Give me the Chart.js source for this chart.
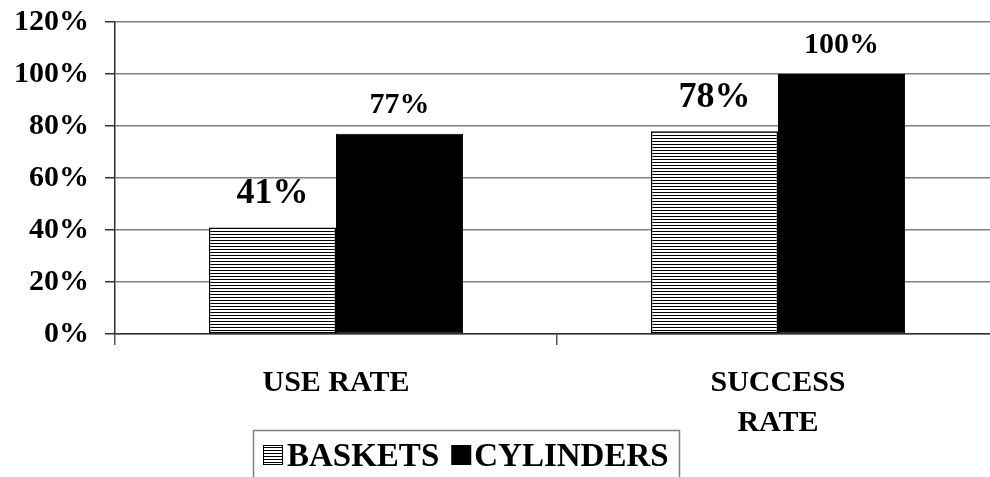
<!DOCTYPE html>
<html>
<head>
<meta charset="utf-8">
<script src="https://cdn.jsdelivr.net/npm/chart.js@4/dist/chart.umd.min.js"></script>
<style>
  html, body { margin: 0; padding: 0; background: #fff; overflow: hidden; }
  #wrap { width: 1000px; height: 477px; position: relative; }
</style>
</head>
<body>
<div id="wrap"><canvas id="grafico" width="1000" height="477"></canvas></div>
<script>
// dados do grafico
const categorias = [["USE RATE"], ["SUCCESS", "RATE"]];
const serieNomes = ["BASKETS", "CYLINDERS"];
const baskets = [0.41, 0.78];
const cylinders = [0.77, 1.0];
const yTicks = [0, 0.2, 0.4, 0.6, 0.8, 1.0, 1.2];

const fonte = "'Liberation Serif', 'Times New Roman', serif";

// padrao de listras horizontais para BASKETS
function criarListras() {
  const c = document.createElement("canvas");
  c.width = 4;
  c.height = 3;
  const g = c.getContext("2d");
  g.fillStyle = "#fff";
  g.fillRect(0, 0, 4, 3);
  g.fillStyle = "#000";
  g.fillRect(0, 0, 4, 1);
  return g.createPattern(c, "repeat");
}
const listras = criarListras();

// rotulos acima das barras
const rotulosPlugin = {
  id: "rotulos",
  afterDatasetsDraw(chart) {
    const ctx = chart.ctx;
    ctx.save();
    ctx.fillStyle = "#000";
    ctx.textAlign = "center";
    ctx.textBaseline = "alphabetic";
    chart.data.datasets.forEach((ds, i) => {
      const meta = chart.getDatasetMeta(i);
      const tam = i === 0 ? 36 : 30;
      const desl = i === 0 ? 24 : 21;
      ctx.font = "bold " + tam + "px " + fonte;
      meta.data.forEach((bar, j) => {
        const txt = Math.round(ds.data[j] * 100) + "%";
        ctx.fillText(txt, bar.x, bar.y - desl);
      });
    });
    ctx.restore();
  },
};

// legenda com borda, desenhada na mao
const legendaPlugin = {
  id: "legenda",
  afterDraw(chart) {
    const ctx = chart.ctx;
    ctx.save();
    ctx.font = "bold 33px " + fonte;
    ctx.textBaseline = "alphabetic";
    const quad = 20;
    const w1 = ctx.measureText(serieNomes[0]).width;
    const w2 = ctx.measureText(serieNomes[1]).width;
    const largura = 10 + quad + 4 + w1 + 12 + quad + 3 + w2 + 10;
    const x0 = 253;
    const y0 = 430;
    ctx.strokeStyle = "#808080";
    ctx.lineWidth = 1.5;
    ctx.strokeRect(x0 + 0.5, y0 + 0.5, Math.round(largura), 60);

    const yq = 445;
    let x = x0 + 10;
    ctx.fillStyle = listras;
    ctx.fillRect(x, yq, quad, quad);
    ctx.strokeStyle = "#000";
    ctx.lineWidth = 1;
    ctx.strokeRect(x + 0.5, yq + 0.5, quad - 1, quad - 1);
    x += quad + 4;
    ctx.fillStyle = "#000";
    ctx.fillText(serieNomes[0], x, 466);
    x += w1 + 12;
    ctx.fillRect(x, yq, quad, quad);
    x += quad + 3;
    ctx.fillText(serieNomes[1], x, 466);
    ctx.restore();
  },
};

const ctx = document.getElementById("grafico").getContext("2d");

new Chart(ctx, {
  type: "bar",
  data: {
    labels: categorias,
    datasets: [
      {
        label: serieNomes[0],
        data: baskets,
        backgroundColor: listras,
        borderColor: "#000",
        borderWidth: 1.5,
        borderSkipped: false,
      },
      {
        label: serieNomes[1],
        data: cylinders,
        backgroundColor: "#000",
        borderColor: "#000",
        borderWidth: 1,
        borderSkipped: false,
      },
    ],
  },
  options: {
    responsive: false,
    animation: false,
    devicePixelRatio: 1,
    layout: { padding: { top: 22, right: 1, left: 0, bottom: 0 } },
    datasets: {
      bar: { categoryPercentage: 0.575, barPercentage: 1.0 },
    },
    plugins: {
      legend: { display: false },
      tooltip: { enabled: false },
    },
    scales: {
      x: {
        afterFit(scale) {
          scale.height = 143;
          scale.paddingLeft = 0;
          scale.paddingRight = 0;
        },
        grid: {
          offset: true,
          drawOnChartArea: false,
          drawTicks: true,
          tickLength: 11,
          tickColor: "#555",
          lineWidth: 1.5,
        },
        border: { color: "#333", width: 1.5 },
        ticks: {
          color: "#000",
          padding: 18,
          maxRotation: 0,
          font: { family: fonte, size: 30, weight: "bold", lineHeight: 1.33 },
        },
      },
      y: {
        min: 0,
        max: 1.2,
        afterFit(scale) {
          scale.width = 115;
          scale.paddingTop = 0;
          scale.paddingBottom = 0;
        },
        afterBuildTicks(scale) {
          scale.ticks = yTicks.map((v) => ({ value: v }));
        },
        grid: {
          color: "#808080",
          lineWidth: 1.5,
          tickLength: 10,
          tickColor: "#333",
        },
        border: { color: "#333", width: 1.5 },
        ticks: {
          color: "#000",
          padding: 16,
          font: { family: fonte, size: 30, weight: "bold" },
          callback: (v) => Math.round(v * 100) + "%",
        },
      },
    },
  },
  plugins: [rotulosPlugin, legendaPlugin],
});
</script>
</body>
</html>
